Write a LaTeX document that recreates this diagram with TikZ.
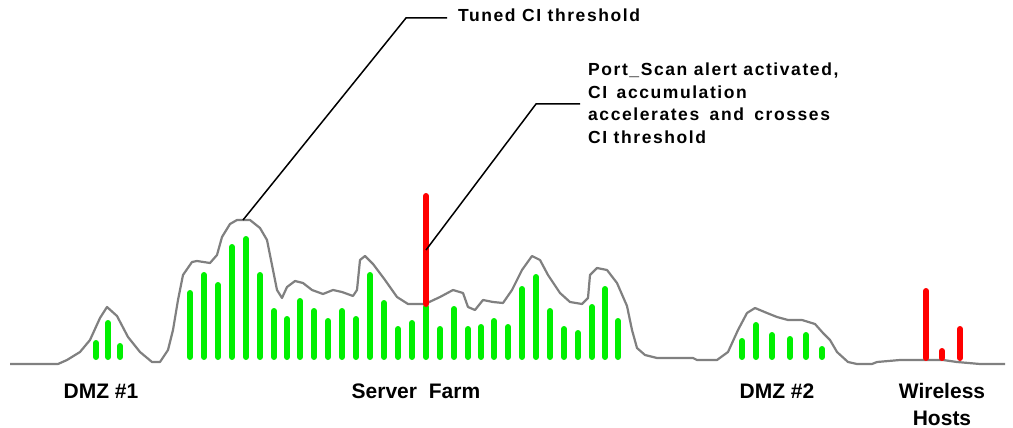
\documentclass[tikz,border=0pt]{standalone}
\usepackage{fontspec}
\setmainfont{Liberation Sans}
\newfontfamily\notefont[LetterSpace=9]{Liberation Sans}
\definecolor{barGreen}{RGB}{0,240,0}
\definecolor{alarmRed}{RGB}{255,0,0}
\definecolor{ciGray}{RGB}{128,128,128}
\tikzset{
  okbar/.style={line width=6pt, line cap=round, draw=barGreen},
  alarmbar/.style={line width=6pt, line cap=round, draw=alarmRed},
  ciline/.style={draw=ciGray, line width=2.2pt, line join=round},
  leader/.style={draw=black, line width=1.5pt},
  region/.style={font=\bfseries\fontsize{21}{27}\selectfont, align=center, inner sep=0pt, anchor=base},
  note/.style={font=\notefont\bfseries\fontsize{17.5}{22.5}\selectfont, align=left, inner sep=0pt, anchor=base west},
}
\begin{document}
\begin{tikzpicture}[x=1pt, y=-1pt]
\useasboundingbox (0,0) rectangle (1013,428);

% accumulated CI curve
\draw[ciline] (10,364) -- (58,364) -- (67,360) -- (80,352) -- (90,340) -- (100,318)
  -- (107,307) -- (117,316) -- (128,337) -- (140,352) -- (152,362) -- (160,362)
  -- (168,350) -- (173,330) -- (178,300) -- (183,275) -- (192,262) -- (197,261)
  -- (210,263) -- (217,255) -- (222,237) -- (230,224) -- (237,220) -- (250,220)
  -- (260,228) -- (267,240) -- (272,265) -- (277,290) -- (282,298) -- (287,287)
  -- (295,281) -- (303,283) -- (312,290) -- (323,294) -- (333,290) -- (342,292)
  -- (353,296) -- (357,290) -- (360,260) -- (365,256) -- (373,264) -- (385,280)
  -- (397,297) -- (408,304) -- (425,304) -- (440,297) -- (453,290) -- (463,293)
  -- (468,307) -- (475,310) -- (483,300) -- (493,302) -- (503,303) -- (512,290)
  -- (522,270) -- (532,256) -- (540,260) -- (548,275) -- (560,293) -- (570,302)
  -- (582,304) -- (588,298) -- (590,275) -- (597,268) -- (607,270) -- (617,283)
  -- (627,306) -- (632,330) -- (637,348) -- (645,355) -- (657,358) -- (693,358)
  -- (697,360) -- (717,360) -- (728,352) -- (738,330) -- (747,313) -- (755,308)
  -- (767,313) -- (777,317) -- (788,320) -- (802,320) -- (815,324) -- (823,333)
  -- (830,340) -- (837,352) -- (848,362) -- (857,364) -- (872,364) -- (877,362)
  -- (900,360) -- (927,360) -- (943,360) -- (957,362) -- (980,364) -- (1005,364);

% per-host CI bars (x position / top)
\foreach \x/\t in {96/340, 108/320, 120/343,
  190/290, 204/272, 218/282, 232/244, 246/236, 260/272, 274/308, 287/316,
  300/298, 314/308, 328/318, 342/308, 356/316, 370/272, 384/300, 398/326,
  412/320, 426/304, 440/326, 454/306, 468/326, 481/324, 494/318, 508/324,
  522/286, 536/274, 550/308, 564/326, 578/330, 592/304, 605/286, 618/318,
  742/338, 756/322, 772/332, 790/336, 806/332, 822/346}
  \draw[okbar] (\x,357) -- (\x,{\t+3});

% alerted hosts
\draw[alarmbar] (426,304) -- (426,196);
\foreach \x/\t in {926/288, 942/348, 960/326}
  \draw[alarmbar] (\x,358) -- (\x,{\t+3});

% leader lines
\coordinate (peak) at (243,220);
\coordinate (bend1) at (406,18);
\coordinate (end1) at (447,18);
\coordinate (scan) at (426,250);
\coordinate (bend2) at (536,104);
\coordinate (end2) at (580,104);
\draw[leader] (peak) -- (bend1) -- (end1);
\draw[leader] (scan) -- (bend2) -- (end2);

% annotations (multi-line nodes are placed by the baseline of their last line)
\node[note] (tuned) at (458,22) {Tuned CI threshold};
\node[note] (portscan) at (588,143) {Port\_Scan alert activated,\\CI\hspace{3pt} accumulation\\accelerates\hspace{4pt} and\hspace{4pt} crosses\\CI threshold};

% region labels
\node[region] (dmz1) at (101,398) {DMZ \#1};
\node[region] (farm) at (416,398) {Server\hspace{6pt} Farm};
\node[region] (dmz2) at (777,398) {DMZ \#2};
\node[region] (wireless) at (942,425) {Wireless\\Hosts};
\end{tikzpicture}
\end{document}
